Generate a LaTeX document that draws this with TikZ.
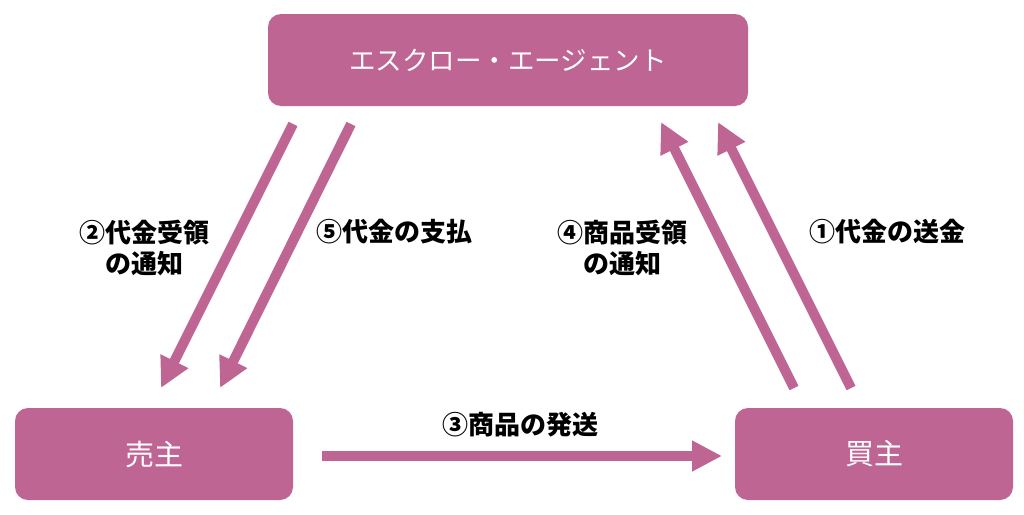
\documentclass[tikz,border=0pt]{standalone}
\usepackage{fontspec}
\setmainfont{Noto Sans CJK JP}
\usetikzlibrary{arrows.meta}
\definecolor{mauve}{RGB}{190,101,148}
\tikzset{
  party/.style={fill=mauve, draw=none, rounded corners=13pt, text=white, font=\fontsize{26.5}{30}\selectfont},
  flow/.style={draw=mauve, line width=10pt, -{Triangle[length=30pt,width=29pt]}},
  lbl/.style={font=\bfseries\fontsize{26}{31}\selectfont, align=center, text=black, inner sep=0pt}
}
\begin{document}
\begin{tikzpicture}[x=1pt,y=-1pt]
\useasboundingbox (0,0) rectangle (1024,514);
% boxes
\node[party, minimum width=480pt, minimum height=92pt] (agent) at (508,60) {エスクロー・エージェント};
\node[party, minimum width=278pt, minimum height=92pt, font=\fontsize{29}{32}\selectfont] (seller) at (154,454) {売主};
\node[party, minimum width=278pt, minimum height=92pt, font=\fontsize{29}{32}\selectfont] (buyer) at (874,454) {買主};
% arrow end points
\coordinate (a1s) at (293,124); \coordinate (a1e) at (161,388);
\coordinate (a2s) at (351,124); \coordinate (a2e) at (220,388);
\coordinate (a3s) at (794,388); \coordinate (a3e) at (661,122);
\coordinate (a4s) at (851,388); \coordinate (a4e) at (718,122);
\coordinate (a5s) at (322,456); \coordinate (a5e) at (722,456);
\draw[flow] (a1s) -- (a1e);
\draw[flow] (a2s) -- (a2e);
\draw[flow] (a3s) -- (a3e);
\draw[flow] (a4s) -- (a4e);
\draw[flow] (a5s) -- (a5e);
% labels
\node[lbl] (l2) at (144,248) {②代金受領\\の通知};
\node[lbl] (l5) at (394,232) {⑤代金の支払};
\node[lbl] (l4) at (622,248) {④商品受領\\の通知};
\node[lbl] (l1) at (887,232) {①代金の送金};
\node[lbl] (l3) at (520,425) {③商品の発送};
\end{tikzpicture}
\end{document}
